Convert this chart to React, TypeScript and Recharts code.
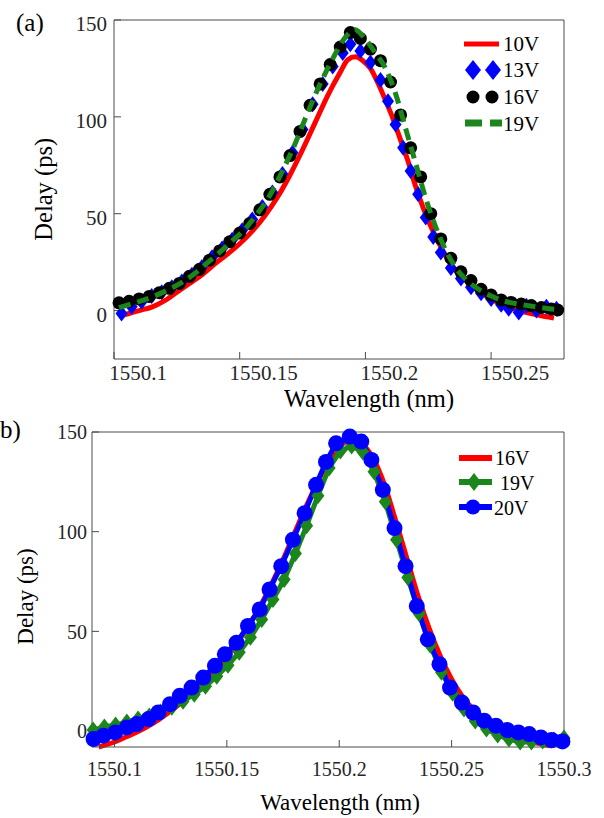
import React from "react";
import { LineChart, Line, XAxis, YAxis, Legend } from "recharts";

const FONT = "Liberation Serif";
const INK = "#262626";
const AXIS = "#4a4a4a";
const RED = "#ff0000";
const BLUE = "#0000ff";
const GREEN = "#1b861b";
const ASC = 0.8375; // baseline offset inside a line box of height = font size

// ---- panel (a) ----
const ticksXA = [1550.1, 1550.15, 1550.2, 1550.25];
const ticksYA = [0, 50, 100, 150];

const wlA10 = [1550.102, 1550.106, 1550.11, 1550.115, 1550.12, 1550.125, 1550.13, 1550.135, 1550.14, 1550.145, 1550.15, 1550.155, 1550.16, 1550.165, 1550.17, 1550.175, 1550.18, 1550.185, 1550.19, 1550.193, 1550.196, 1550.199, 1550.202, 1550.205, 1550.208, 1550.211, 1550.214, 1550.217, 1550.22, 1550.223, 1550.226, 1550.229, 1550.232, 1550.236, 1550.24, 1550.245, 1550.25, 1550.255, 1550.26, 1550.265, 1550.27, 1550.275];
const dA10 = [-3, -1.5, 0, 1.8, 5, 9.5, 14, 18.5, 24, 29, 34.5, 41, 49, 58.5, 70, 83, 97, 111, 123, 129.5, 131, 129, 125, 117.5, 108.5, 99, 88, 77, 64, 53, 43.5, 35.5, 28, 20.5, 15.5, 10, 6, 3, 0.5, -1.3, -2.7, -3.8];

const wlA13 = [1550.103, 1550.107, 1550.111, 1550.115, 1550.119, 1550.123, 1550.127, 1550.131, 1550.135, 1550.139, 1550.143, 1550.147, 1550.151, 1550.155, 1550.159, 1550.163, 1550.167, 1550.171, 1550.175, 1550.179, 1550.183, 1550.187, 1550.191, 1550.194, 1550.198, 1550.202, 1550.206, 1550.209, 1550.212, 1550.215, 1550.218, 1550.221, 1550.224, 1550.227, 1550.23, 1550.234, 1550.238, 1550.242, 1550.246, 1550.25, 1550.254, 1550.257, 1550.261, 1550.264, 1550.268, 1550.272, 1550.276];
const dA13 = [-1.5, 2, 4.5, 7.5, 9.5, 12, 15, 18.5, 22.5, 27.5, 32, 36.5, 41.5, 47, 53.5, 61, 70.5, 81.5, 93.5, 106.5, 117, 126, 133, 137.5, 134, 128, 119, 108, 96, 84, 72, 60, 48, 38, 30, 22, 16.5, 12, 9, 6, 3, 1, -1, 2.5, 0, 2, 1];

const wlA16 = [1550.102, 1550.106, 1550.11, 1550.114, 1550.118, 1550.122, 1550.126, 1550.13, 1550.134, 1550.138, 1550.142, 1550.146, 1550.15, 1550.154, 1550.158, 1550.162, 1550.166, 1550.17, 1550.174, 1550.178, 1550.182, 1550.186, 1550.19, 1550.194, 1550.198, 1550.202, 1550.206, 1550.21, 1550.214, 1550.218, 1550.222, 1550.226, 1550.23, 1550.234, 1550.238, 1550.242, 1550.246, 1550.25, 1550.254, 1550.258, 1550.262, 1550.266, 1550.27, 1550.274, 1550.2765];
const dA16 = [4, 4.8, 6, 7.3, 9.2, 11.5, 14, 17.7, 21.3, 26, 30.8, 35.5, 40, 45, 52, 60, 69, 80, 92.5, 106, 117, 127, 136, 143.5, 140.5, 135, 129, 118, 101, 84, 69, 50, 37, 27, 20, 15.5, 11, 8, 5.5, 4.2, 3.4, 2.6, 1.6, 0.8, 0.3];

const wlA19 = [1550.102, 1550.107, 1550.112, 1550.117, 1550.122, 1550.127, 1550.132, 1550.137, 1550.142, 1550.147, 1550.152, 1550.157, 1550.162, 1550.167, 1550.172, 1550.177, 1550.182, 1550.187, 1550.192, 1550.196, 1550.2, 1550.204, 1550.208, 1550.212, 1550.216, 1550.22, 1550.224, 1550.228, 1550.232, 1550.236, 1550.24, 1550.245, 1550.25, 1550.255, 1550.26, 1550.265, 1550.27, 1550.2765];
const dA19 = [1.5, 3.5, 5.5, 8, 11, 14.5, 19, 24.5, 30, 36, 42, 50, 59.5, 72, 86, 102, 117, 130, 141, 145, 140, 133, 125, 112, 94, 76, 58, 43, 31, 22, 16, 11, 7.5, 5, 3.5, 2.5, 1.5, 0.5];

// ---- panel (b) ----
const ticksXB = [1550.1, 1550.15, 1550.2, 1550.25, 1550.3];
const ticksYB = [0, 50, 100, 150];

const wlB16 = [1550.093, 1550.1, 1550.105, 1550.11, 1550.115, 1550.12, 1550.125, 1550.13, 1550.135, 1550.14, 1550.145, 1550.15, 1550.155, 1550.16, 1550.165, 1550.17, 1550.175, 1550.18, 1550.185, 1550.19, 1550.195, 1550.2, 1550.205, 1550.21, 1550.215, 1550.22, 1550.225, 1550.23, 1550.235, 1550.24, 1550.245, 1550.25, 1550.255, 1550.26, 1550.265, 1550.27, 1550.275, 1550.28, 1550.285, 1550.29, 1550.295];
const dB16 = [-8, -5.5, -3, -0.5, 2.5, 6, 10, 14.5, 19.5, 25, 31, 37.5, 45, 53.5, 63, 74, 86, 99, 112, 124, 135, 142.5, 146, 144, 137, 124, 106, 87, 68, 51.5, 37.5, 26, 17, 10.5, 5.5, 2, -1, -3, -5, -6.5, -7.5];

const wlB19 = [1550.0905, 1550.0955, 1550.1005, 1550.1055, 1550.1105, 1550.1155, 1550.1205, 1550.1255, 1550.1305, 1550.1355, 1550.1405, 1550.1455, 1550.1505, 1550.1555, 1550.1605, 1550.1655, 1550.1705, 1550.1755, 1550.1805, 1550.1855, 1550.1905, 1550.1955, 1550.2005, 1550.2055, 1550.2105, 1550.2155, 1550.2205, 1550.2255, 1550.2305, 1550.2355, 1550.2405, 1550.2455, 1550.2505, 1550.2555, 1550.2605, 1550.2655, 1550.2705, 1550.2755, 1550.2805, 1550.2855, 1550.2905, 1550.2955, 1550.3];
const dB19 = [0.5, 2, 3, 4.5, 6, 7.5, 9.5, 12, 15, 18.5, 22.5, 27.5, 33, 39.5, 47, 56, 66, 76, 89, 103, 118, 132, 140.5, 143, 140, 130, 115, 96, 77, 59, 43, 29.5, 19, 11, 5, 1, -2, -4, -5.5, -5.5, -5, -4.5, -3.5];

const wlB20 = [1550.0907, 1550.0951, 1550.1003, 1550.1055, 1550.1099, 1550.1151, 1550.1195, 1550.1247, 1550.1291, 1550.1343, 1550.1395, 1550.1447, 1550.1491, 1550.1543, 1550.1594, 1550.1646, 1550.169, 1550.1742, 1550.1794, 1550.1846, 1550.1897, 1550.1941, 1550.1986, 1550.2047, 1550.2098, 1550.2143, 1550.2194, 1550.2246, 1550.2295, 1550.2345, 1550.2394, 1550.2446, 1550.2493, 1550.2546, 1550.2596, 1550.2645, 1550.2697, 1550.2748, 1550.2797, 1550.2845, 1550.2897, 1550.2945, 1550.2993];
const dB20 = [-4, -2.3, -0.7, 1.8, 3.5, 6, 9.3, 13.5, 17.7, 21.8, 26.8, 32.7, 38.5, 44.3, 52.7, 61, 71, 82.7, 96, 109.3, 123.5, 135, 144.3, 147.7, 145.2, 136, 121, 101.8, 82.7, 62.7, 46, 33.5, 21.8, 14.3, 9.3, 5.2, 2.7, 0.5, -0.7, -1.5, -3.2, -4.5, -5.2];

const pts = (xs: number[], ys: number[]) => xs.map((x, i) => ({ x, y: ys[i] }));

const diamondPath = (cx: number, cy: number, w: number, h: number) =>
  `M${cx},${cy - h}L${cx + w},${cy}L${cx},${cy + h}L${cx - w},${cy}Z`;

const diamondDot = (w: number, h: number, fill: string) => (p: any) =>
  <path key={`d-${p.index}`} d={diamondPath(p.cx, p.cy, w, h)} fill={fill} />;

const circleDot = (r: number, fill: string) => (p: any) =>
  <circle key={`c-${p.index}`} cx={p.cx} cy={p.cy} r={r} fill={fill} />;

const htmlText = (size: number, extra: object = {}) => ({
  fontFamily: FONT, fontSize: size, lineHeight: `${size}px`, whiteSpace: "nowrap" as const, ...extra,
});

// tick label as html inside the axis svg; baseline at by
const tickLabel = (value: any, cx: number, by: number, size: number, align: "center" | "right") => {
  const w = 100;
  const left = align === "center" ? cx - w / 2 : cx - w;
  return (
    <foreignObject x={left} y={by - ASC * size} width={w} height={size + 6} style={{ overflow: "visible" }}>
      <div style={htmlText(size, { width: w, textAlign: align, color: INK })}>{value}</div>
    </foreignObject>
  );
};

const xTickA = (p: any) => tickLabel(p.payload.value, p.x + 24, p.y + 22, 21, "center");
const yTickA = (p: any) => tickLabel(p.payload.value, p.x - 7, p.y + 12, 21, "right");
const xTickB = (p: any) => tickLabel(p.payload.value, p.x, p.y + 29, 20, "center");
const yTickB = (p: any) => tickLabel(p.payload.value, p.x - 5, p.y + 7, 20, "right");

const legendLabel = (label: string, left: number, baseline: number, size: number) => (
  <div key={label} style={htmlText(size, { position: "absolute", left, top: baseline - ASC * size, color: "#000" })}>{label}</div>
);

const legendA = () => (
  <div style={{ position: "relative", width: 130, height: 120 }}>
    <svg width={130} height={120} style={{ position: "absolute", left: 0, top: 0 }}>
      <line x1={14} x2={49} y1={19} y2={19} stroke={RED} strokeWidth={5} />
      <path d={diamondPath(23, 45, 8, 10)} fill={BLUE} />
      <path d={diamondPath(43, 45, 8, 10)} fill={BLUE} />
      <circle cx={23} cy={72} r={6.5} fill="#000" />
      <circle cx={42} cy={72} r={6.5} fill="#000" />
      <line x1={15} x2={52} y1={98} y2={98} stroke={GREEN} strokeWidth={7} strokeDasharray="17 8" />
    </svg>
    {legendLabel("10V", 53, 27, 21)}
    {legendLabel("13V", 53, 53, 21)}
    {legendLabel("16V", 53, 80, 21)}
    {legendLabel("19V", 53, 107, 21)}
  </div>
);

const legendB = () => (
  <div style={{ position: "relative", width: 120, height: 80 }}>
    <svg width={120} height={80} style={{ position: "absolute", left: 0, top: 0 }}>
      <line x1={9} x2={42} y1={13} y2={13} stroke={RED} strokeWidth={6} />
      <line x1={9} x2={42} y1={37} y2={37} stroke={GREEN} strokeWidth={6} />
      <path d={diamondPath(24, 37, 7, 9)} fill={GREEN} />
      <line x1={9} x2={42} y1={62} y2={62} stroke={BLUE} strokeWidth={6} />
      <circle cx={23} cy={62} r={7.5} fill={BLUE} />
    </svg>
    {legendLabel("16V", 45, 20, 20)}
    {legendLabel("19V", 50, 45, 20)}
    {legendLabel("20V", 44, 70, 20)}
  </div>
);

const frameAxes = (domX: number[], tX: number[], domY: number[], tY: number[]) => [
  <XAxis key="xt" xAxisId="top" orientation="top" type="number" dataKey="x" domain={domX} ticks={tX}
    allowDataOverflow height={1} tick={false} tickSize={-7} interval={0} stroke={AXIS} />,
  <YAxis key="yr" yAxisId="right" orientation="right" type="number" domain={domY} ticks={tY}
    allowDataOverflow width={1} tick={false} tickSize={-7} interval={0} stroke={AXIS} />,
];

// centred text with its baseline at (cx, by)
const Title = ({ text, cx, by, size }: { text: string; cx: number; by: number; size: number }) => (
  <div style={htmlText(size, { position: "absolute", left: cx - 150, width: 300, textAlign: "center", top: by - ASC * size, color: "#000" })}>{text}</div>
);

// rotated -90deg text, baseline on the vertical line x = bx, centred on cy
const VTitle = ({ text, bx, cy, size }: { text: string; bx: number; cy: number; size: number }) => {
  const cx = bx - (ASC - 0.5) * size;
  return (
    <div style={htmlText(size, {
      position: "absolute", left: cx - 100, top: cy - size / 2, width: 200, height: size,
      textAlign: "center", transform: "rotate(-90deg)", color: "#000",
    })}>{text}</div>
  );
};

const domXA = [1550.1, 1550.279];
const domYA = [-25, 150];

export default function App() {
  return (
    <div style={{ position: "absolute", left: 0, top: 0, width: 604, height: 818, background: "#fff", fontFamily: FONT }}>
      <div style={{ position: "absolute", left: 0, top: 0 }}>
        <LineChart width={604} height={420} margin={{ top: 19, right: 39, bottom: 0, left: 0 }}>
          <XAxis type="number" dataKey="x" domain={domXA} ticks={ticksXA} interval={0}
            height={61} tickSize={-7} tickMargin={7} tick={xTickA} stroke={AXIS} />
          <YAxis type="number" domain={domYA} ticks={ticksYA} interval={0}
            width={114} tickSize={-7} tickMargin={7} tick={yTickA} stroke={AXIS} />
          {frameAxes(domXA, ticksXA, domYA, ticksYA)}
          <Line data={pts(wlA10, dA10)} dataKey="y" name="10V" type="monotone" stroke={RED} strokeWidth={5}
            dot={false} activeDot={false} isAnimationActive={false} />
          <Line data={pts(wlA13, dA13)} dataKey="y" name="13V" stroke="none" strokeWidth={0}
            dot={diamondDot(6, 8, BLUE)} activeDot={false} isAnimationActive={false} />
          <Line data={pts(wlA16, dA16)} dataKey="y" name="16V" stroke="none" strokeWidth={0}
            dot={circleDot(6.5, "#000")} activeDot={false} isAnimationActive={false} />
          <Legend layout="vertical" align="center" verticalAlign="middle" content={legendA}
            wrapperStyle={{ left: 450, top: 25, width: 130, height: 120 }} />
        </LineChart>
      </div>
      {/* 19V dashed line sits above the 16V circles, so it gets its own layer */}
      <div style={{ position: "absolute", left: 0, top: 0, pointerEvents: "none" }}>
        <LineChart width={604} height={420} margin={{ top: 20, right: 40, bottom: 61, left: 114 }}>
          <XAxis hide type="number" dataKey="x" domain={domXA} />
          <YAxis hide type="number" domain={domYA} />
          <Line data={pts(wlA19, dA19)} dataKey="y" name="19V" type="monotone" stroke={GREEN} strokeWidth={5}
            strokeDasharray="12 7" dot={false} activeDot={false} isAnimationActive={false} />
        </LineChart>
      </div>
      <div style={{ position: "absolute", left: 0, top: 400 }}>
        <LineChart width={604} height={418} margin={{ top: 31, right: 39, bottom: 0, left: 0 }}>
          <XAxis type="number" dataKey="x" domain={[1550.09, 1550.3]} ticks={ticksXB} interval={0}
            height={71} tickSize={-7} tickMargin={7} tick={xTickB} stroke={AXIS} />
          <YAxis type="number" domain={[-7.5, 150]} ticks={ticksYB} interval={0}
            width={92} tickSize={-7} tickMargin={7} tick={yTickB} stroke={AXIS} />
          {frameAxes([1550.09, 1550.3], ticksXB, [-7.5, 150], ticksYB)}
          <Line data={pts(wlB16, dB16)} dataKey="y" name="16V" type="monotone" stroke={RED} strokeWidth={5}
            dot={false} activeDot={false} isAnimationActive={false} />
          <Line data={pts(wlB19, dB19)} dataKey="y" name="19V" stroke={GREEN} strokeWidth={5}
            dot={diamondDot(6.5, 8.5, GREEN)} activeDot={false} isAnimationActive={false} />
          <Line data={pts(wlB20, dB20)} dataKey="y" name="20V" stroke={BLUE} strokeWidth={5}
            dot={circleDot(8, BLUE)} activeDot={false} isAnimationActive={false} />
          <Legend layout="vertical" align="center" verticalAlign="middle" content={legendB}
            wrapperStyle={{ left: 450, top: 45, width: 120, height: 80 }} />
        </LineChart>
      </div>
      <div style={htmlText(25, { position: "absolute", left: 16, top: 31 - ASC * 25, color: "#000" })}>(a)</div>
      <div style={htmlText(25, { position: "absolute", left: 0, top: 438 - ASC * 25, color: "#000" })}>b)</div>
      <Title text="Wavelength (nm)" cx={369} by={408} size={24.5} />
      <Title text="Wavelength (nm)" cx={340} by={810} size={23} />
      <VTitle text="Delay (ps)" bx={52} cy={189} size={24.5} />
      <VTitle text="Delay (ps)" bx={33} cy={596} size={23} />
    </div>
  );
}
